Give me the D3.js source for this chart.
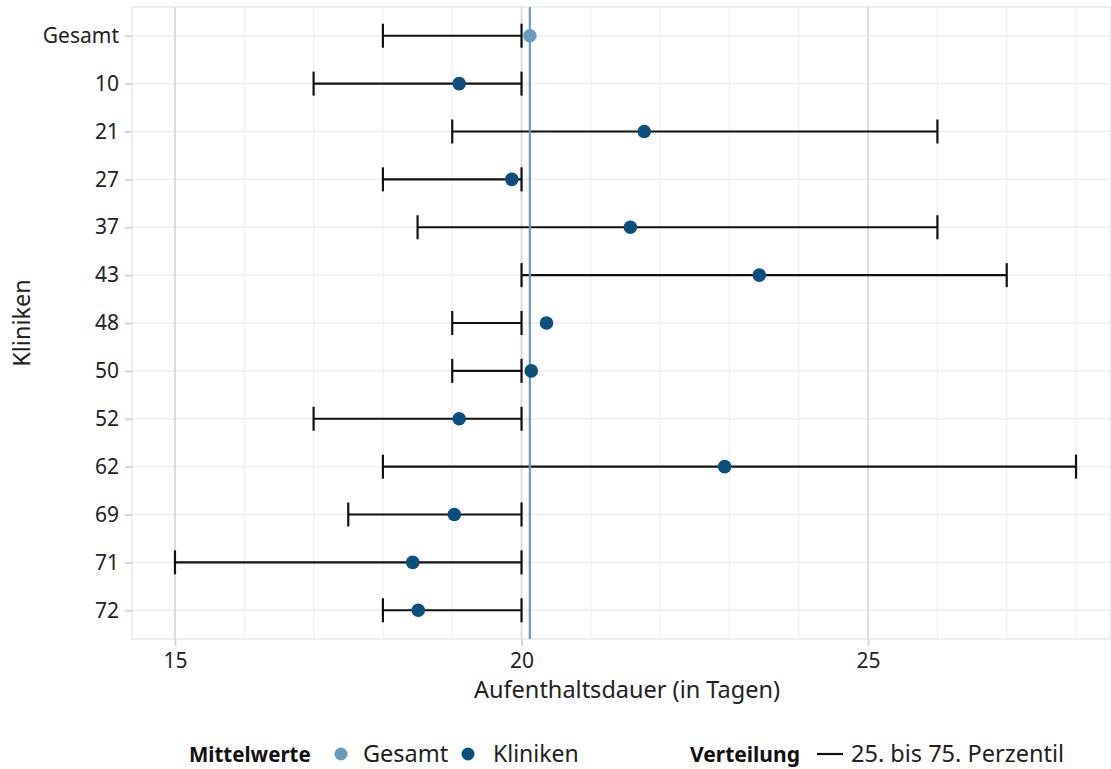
<!DOCTYPE html>
<html>
<head>
<meta charset="utf-8">
<script src="https://cdn.jsdelivr.net/npm/d3@7"></script>
<style>
  body { margin: 0; background: #fff; }
  svg { display: block; font-family: "Noto Sans", "Open Sans", sans-serif; }
</style>
</head>
<body>
<svg id="chart" width="1111" height="769"></svg>
<script>
// Kliniken und Gesamtwert
const categories = ["Gesamt", "10", "21", "27", "37", "43", "48", "50", "52", "62", "69", "71", "72"];
// Mittelwert der Aufenthaltsdauer
const means = [20.12, 19.1, 21.77, 19.86, 21.57, 23.43, 20.36, 20.14, 19.1, 22.93, 19.03, 18.43, 18.51];
// 25. und 75. Perzentil
const p25 = [18, 17, 19, 18, 18.5, 20, 19, 19, 17, 18, 17.5, 15, 18];
const p75 = [20, 20, 26, 20, 26, 27, 20, 20, 20, 28, 20, 20, 20];
const xTicks = [15, 20, 25];
const overallMean = means[0];

const colGesamt = "#6a9bbd";
const colKlinik = "#0b4f7e";

const svg = d3.select("#chart");
const m = { left: 132, right: 1, top: 7, bottom: 130 };
const W = 1111, H = 769;
const iw = W - m.left - m.right, ih = H - m.top - m.bottom;

const x = d3.scaleLinear().domain([14.38, 28.49]).range([m.left, m.left + iw]);
const y = d3.scalePoint().domain(categories).range([m.top, m.top + ih]).padding(0.6);

const g = svg.append("g");

// panel border
g.append("rect")
  .attr("x", m.left).attr("y", m.top).attr("width", iw).attr("height", ih)
  .attr("fill", "none").attr("stroke", "#e3e3e3").attr("stroke-width", 1.2);

// minor grid (every day)
const minor = d3.range(15, 29, 1).filter(v => !xTicks.includes(v));
g.selectAll(".minor").data(minor).join("line")
  .attr("x1", d => x(d)).attr("x2", d => x(d))
  .attr("y1", m.top).attr("y2", m.top + ih)
  .attr("stroke", "#f0f0f0").attr("stroke-width", 1.2);

// horizontal grid
g.selectAll(".hgrid").data(categories).join("line")
  .attr("x1", m.left).attr("x2", m.left + iw)
  .attr("y1", d => y(d)).attr("y2", d => y(d))
  .attr("stroke", "#ececec").attr("stroke-width", 1.4);

// major grid
g.selectAll(".major").data(xTicks).join("line")
  .attr("x1", d => x(d)).attr("x2", d => x(d))
  .attr("y1", m.top).attr("y2", m.top + ih)
  .attr("stroke", "#dcdcdc").attr("stroke-width", 2);

// axes
const xAxis = d3.axisBottom(x).tickValues(xTicks).tickSize(7).tickPadding(7);
const xg = svg.append("g").attr("transform", `translate(0,${m.top + ih})`).call(xAxis);
xg.select(".domain").remove();
xg.selectAll(".tick line").attr("stroke", "#d5d5d5").attr("stroke-width", 2);
xg.selectAll(".tick text").attr("fill", "#222").style("font-size", "21px").style("font-family", "Noto Sans");

const yAxis = d3.axisLeft(y).tickSize(7).tickPadding(6);
const yg = svg.append("g").attr("transform", `translate(${m.left},0)`).call(yAxis);
yg.select(".domain").remove();
yg.selectAll(".tick line").attr("stroke", "#d5d5d5").attr("stroke-width", 2);
yg.selectAll(".tick text").attr("fill", "#222").style("font-size", "21px").style("font-family", "Noto Sans");

// axis titles
svg.append("text").attr("x", 627).attr("y", 698)
  .attr("text-anchor", "middle").attr("fill", "#222").style("font-size", "23.5px")
  .text("Aufenthaltsdauer (in Tagen)");
svg.append("text").attr("transform", `translate(30,${m.top + ih / 2}) rotate(-90)`)
  .attr("text-anchor", "middle").attr("fill", "#222").style("font-size", "23.5px")
  .text("Kliniken");

const idx = d3.range(categories.length);
const capH = 12;

// error bars (25. bis 75. Perzentil)
const eb = g.selectAll(".eb").data(idx).join("g");
eb.append("line")
  .attr("x1", i => x(p25[i])).attr("x2", i => x(p75[i]))
  .attr("y1", i => y(categories[i])).attr("y2", i => y(categories[i]))
  .attr("stroke", "#111").attr("stroke-width", 2.2);
eb.append("line")
  .attr("x1", i => x(p25[i])).attr("x2", i => x(p25[i]))
  .attr("y1", i => y(categories[i]) - capH).attr("y2", i => y(categories[i]) + capH)
  .attr("stroke", "#111").attr("stroke-width", 2.2);
eb.append("line")
  .attr("x1", i => x(p75[i])).attr("x2", i => x(p75[i]))
  .attr("y1", i => y(categories[i]) - capH).attr("y2", i => y(categories[i]) + capH)
  .attr("stroke", "#111").attr("stroke-width", 2.2);

// overall mean line
g.append("line")
  .attr("x1", x(overallMean)).attr("x2", x(overallMean))
  .attr("y1", m.top).attr("y2", m.top + ih)
  .attr("stroke", colGesamt).attr("stroke-width", 2.2);

// mean points
g.selectAll(".pt").data(idx).join("circle")
  .attr("cx", i => x(means[i])).attr("cy", i => y(categories[i]))
  .attr("r", 6.8)
  .attr("fill", i => i === 0 ? colGesamt : colKlinik);

// legend
const ly = 754;
const leg = svg.append("g").style("font-size", "23.5px").attr("fill", "#222");
leg.append("text").attr("x", 189).attr("y", ly + 8).style("font-weight", "bold").style("font-size", "20.5px").attr("fill", "#111").text("Mittelwerte");
leg.append("circle").attr("cx", 341).attr("cy", ly).attr("r", 6.5).attr("fill", colGesamt);
leg.append("text").attr("x", 363).attr("y", ly + 8).text("Gesamt");
leg.append("circle").attr("cx", 468).attr("cy", ly).attr("r", 6.5).attr("fill", colKlinik);
leg.append("text").attr("x", 493).attr("y", ly + 8).style("font-size", "23px").text("Kliniken");
leg.append("text").attr("x", 690).attr("y", ly + 8).style("font-weight", "bold").style("font-size", "21px").attr("fill", "#111").text("Verteilung");
leg.append("line").attr("x1", 817).attr("x2", 843).attr("y1", ly).attr("y2", ly).attr("stroke", "#111").attr("stroke-width", 2.2);
leg.append("text").attr("x", 851).attr("y", ly + 8).text("25. bis 75. Perzentil");
</script>
</body>
</html>
